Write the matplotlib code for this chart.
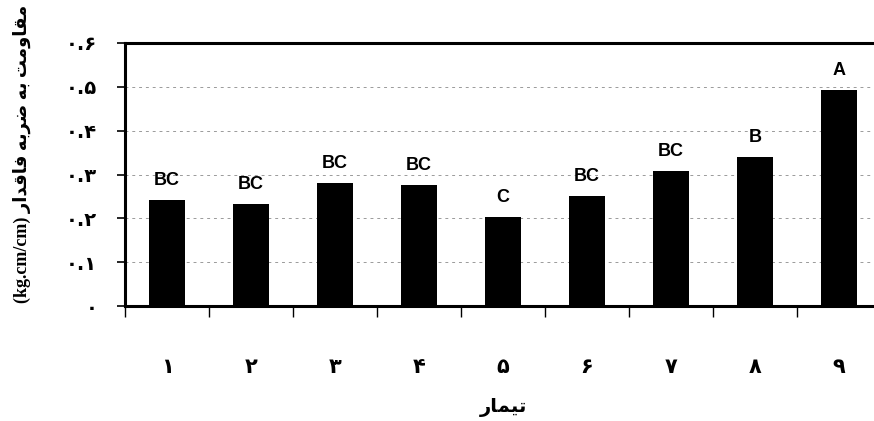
import numpy as np
import matplotlib.pyplot as plt

# treatment means and Duncan grouping letters
treatments = ['\u06f1', '\u06f2', '\u06f3', '\u06f4', '\u06f5', '\u06f6', '\u06f7', '\u06f8', '\u06f9']
strength = [0.242, 0.233, 0.280, 0.276, 0.203, 0.251, 0.307, 0.339, 0.492]
groups = ['BC', 'BC', 'BC', 'BC', 'C', 'BC', 'BC', 'B', 'A']
yticks = [0.0, 0.1, 0.2, 0.3, 0.4, 0.5, 0.6]
ytick_labels = ['\u06f0', '\u06f0.\u06f1', '\u06f0.\u06f2', '\u06f0.\u06f3',
                '\u06f0.\u06f4', '\u06f0.\u06f5', '\u06f0.\u06f6']

# Persian text written in shaped presentation forms, visual order
xlabel = '\ufead\ufe8e\ufee4\ufef4\ufe97'  # تیمار
ylabel = ('(kg.cm/cm) '
          '\ufead\ufe8d\ufeaa\ufed7\ufe8e\ufed3 '   # فاقدار
          '\ufeea\ufe91\ufeae\ufebf '               # ضربه
          '\ufeea\ufe91 '                           # به
          '\ufe96\ufee3\ufeed\ufe8e\ufed8\ufee3')   # مقاومت

fig = plt.figure(figsize=(8.74, 4.21), dpi=100)
ax = fig.add_axes([0.143, 0.273, 0.865, 0.625])

x = np.arange(len(treatments))
bars = ax.bar(x, strength, width=0.43, color='black', zorder=3)

for b, g in zip(bars, groups):
    ax.annotate(g, (b.get_x() + b.get_width() / 2, b.get_height()),
                xytext=(0, 8), textcoords='offset points',
                ha='center', va='bottom', fontsize=13, fontweight='bold',
                family='Liberation Sans')

ax.set_xlim(-0.5, len(treatments) - 0.5)
ax.set_ylim(0, 0.6)

ax.set_yticks(yticks)
ax.set_yticklabels(ytick_labels, fontsize=14, fontweight='bold', family='DejaVu Sans')
ax.tick_params(axis='y', direction='out', length=6, width=1.2, pad=14)

ax.set_xticks(x)
ax.set_xticklabels(treatments, fontsize=15, fontweight='bold', family='DejaVu Sans')
ax.tick_params(axis='x', which='major', length=0, pad=37)
ax.set_xticks(np.arange(-0.5, len(treatments) - 0.4, 1), minor=True)
ax.tick_params(axis='x', which='minor', direction='out', length=8, width=1)

ax.yaxis.grid(True, color='#9a9a9a', linestyle=(0, (3, 4)), linewidth=0.7, zorder=0)

for side in ['left', 'bottom', 'top']:
    ax.spines[side].set_linewidth(2.2)
ax.spines['right'].set_visible(False)

fig.text(0.576, 0.031, xlabel, ha='center', va='center', fontsize=14,
         fontweight='bold', family='DejaVu Sans')
fig.text(0.025, 0.635, ylabel, rotation=90, ha='center', va='center',
         fontsize=13, fontweight='bold', family=['Liberation Serif', 'DejaVu Sans'])

plt.savefig('out.png', dpi=100)
